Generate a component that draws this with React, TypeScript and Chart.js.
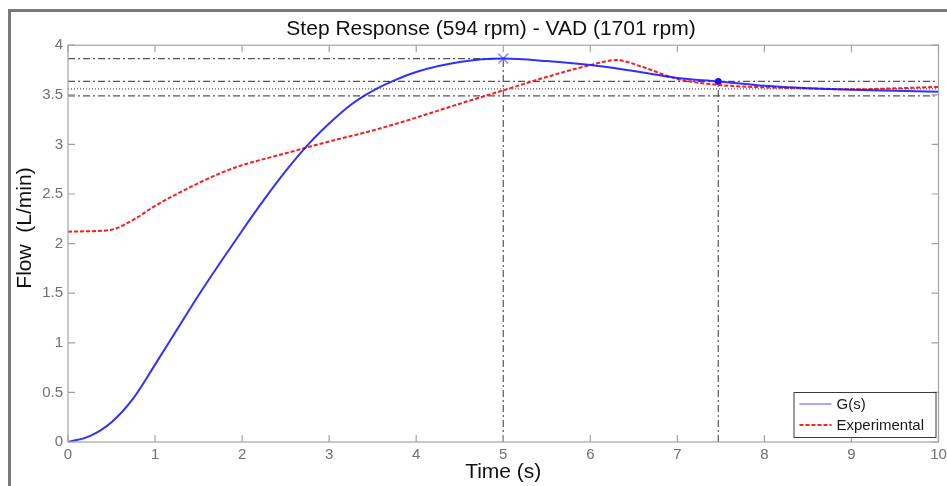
import React, { useEffect, useRef } from "react";
import { Chart, registerables } from "chart.js";

Chart.register(...registerables);

const titleText = "Step Response (594 rpm) - VAD (1701 rpm)";
const xAxisLabel = "Time (s)";
const yAxisLabel = "Flow  (L/min)";

const modelLabel = "G(s)";
const expLabel = "Experimental";

const modelTime = [0, 0.25, 0.5, 0.75, 1.0, 1.25, 1.5, 1.75, 2.0, 2.25, 2.5, 2.75, 3.0, 3.25, 3.5, 3.75, 4.0, 4.5, 5.0, 5.5, 6.0, 6.5, 7.0, 7.47, 8.0, 8.5, 9.0, 9.5, 10];
const modelFlow = [0, 0.06, 0.2, 0.44, 0.78, 1.13, 1.48, 1.81, 2.13, 2.44, 2.73, 2.99, 3.21, 3.4, 3.54, 3.645, 3.73, 3.83, 3.865, 3.84, 3.8, 3.74, 3.67, 3.635, 3.59, 3.565, 3.55, 3.54, 3.53];

const expTime = [0, 0.25, 0.5, 0.75, 1.0, 1.25, 1.5, 1.75, 2.0, 2.5, 3.0, 3.5, 4.0, 4.5, 5.0, 5.5, 6.0, 6.3, 6.6, 7.0, 7.47, 8.0, 8.5, 9.0, 9.5, 10];
const expFlow = [2.12, 2.125, 2.14, 2.24, 2.38, 2.5, 2.61, 2.71, 2.79, 2.91, 3.03, 3.14, 3.27, 3.41, 3.545, 3.68, 3.8, 3.85, 3.78, 3.66, 3.6, 3.575, 3.565, 3.555, 3.565, 3.58];

const xMin = 0;
const xMax = 10;
const xStep = 1;
const yMin = 0;
const yMax = 4;
const yStep = 0.5;

const peakTime = 5.0;
const peakFlow = 3.865;
const settlingTime = 7.47;
const settlingFlow = 3.635;
const finalFlow = 3.56;
const upperBand = 3.635;
const lowerBand = 3.49;

const FONT = "'Liberation Sans', Arial, sans-serif";
const AXIS_COLOR = "#a3a3a3";
const TICK_COLOR = "#707070";
const REF_COLOR = "#555555";
const DASH_DOT = [7, 3, 2, 3];

const pts = (xs: number[], ys: number[]) => xs.map((x, i) => ({ x, y: ys[i] }));

const framePlugin = {
  id: "frame",
  beforeDraw(chart: any) {
    const { ctx, width, height } = chart;
    ctx.save();
    ctx.fillStyle = "#ffffff";
    ctx.fillRect(0, 0, width, height);
    ctx.strokeStyle = "#7a7a7a";
    ctx.lineWidth = 3;
    ctx.beginPath();
    ctx.moveTo(9.5, height);
    ctx.lineTo(9.5, 10.5);
    ctx.lineTo(width, 10.5);
    ctx.stroke();
    ctx.restore();
  },
};

const axesBoxPlugin = {
  id: "axesBox",
  afterDatasetsDraw(chart: any) {
    const { ctx, chartArea } = chart;
    const { left, right, top, bottom } = chartArea;
    const xs = chart.scales.x;
    const ys = chart.scales.y;
    const tl = 7;
    ctx.save();
    ctx.strokeStyle = AXIS_COLOR;
    ctx.lineWidth = 1.2;
    ctx.setLineDash([]);
    ctx.strokeRect(left, top, right - left, bottom - top);
    ctx.beginPath();
    xs.ticks.forEach((t: any) => {
      const px = xs.getPixelForValue(t.value);
      ctx.moveTo(px, bottom);
      ctx.lineTo(px, bottom - tl);
      ctx.moveTo(px, top);
      ctx.lineTo(px, top + tl);
    });
    ys.ticks.forEach((t: any) => {
      const py = ys.getPixelForValue(t.value);
      ctx.moveTo(left, py);
      ctx.lineTo(left + tl, py);
      ctx.moveTo(right, py);
      ctx.lineTo(right - tl, py);
    });
    ctx.stroke();
    ctx.restore();
  },
};

const yLabelPlugin = {
  id: "yLabel",
  afterDraw(chart: any, _args: any, opts: any) {
    const { ctx } = chart;
    ctx.save();
    ctx.translate(opts.x, opts.y);
    ctx.rotate(-Math.PI / 2);
    ctx.fillStyle = "#111";
    ctx.font = `21px ${FONT}`;
    ctx.textAlign = "center";
    ctx.textBaseline = "middle";
    ctx.fillText(opts.text, 0, 0);
    ctx.restore();
  },
};

const legendPlugin = {
  id: "boxLegend",
  afterDraw(chart: any) {
    const { ctx, chartArea } = chart;
    const items = chart.data.datasets.filter((d: any) => d.inLegend);
    const w = 142;
    const rowH = 21;
    const h = items.length * rowH + 3;
    const x0 = chartArea.right - 3 - w;
    const y0 = chartArea.bottom - 5 - h;
    ctx.save();
    ctx.fillStyle = "#fff";
    ctx.fillRect(x0, y0, w, h);
    ctx.strokeStyle = "#3a3a3a";
    ctx.lineWidth = 1;
    ctx.setLineDash([]);
    ctx.strokeRect(x0 + 0.5, y0 + 0.5, w, h);
    items.forEach((d: any, i: number) => {
      const cy = y0 + 12 + i * rowH;
      ctx.beginPath();
      ctx.strokeStyle = d.legendColor;
      ctx.lineWidth = 2;
      ctx.setLineDash(d.borderDash || []);
      ctx.moveTo(x0 + 6, cy);
      ctx.lineTo(x0 + 38, cy);
      ctx.stroke();
      ctx.setLineDash([]);
      ctx.fillStyle = "#1a1a1a";
      ctx.font = `15px ${FONT}`;
      ctx.textAlign = "left";
      ctx.textBaseline = "middle";
      ctx.fillText(d.label, x0 + 43, cy + 1);
    });
    ctx.restore();
  },
};

const refLine = (label: string, data: { x: number; y: number }[], dash: number[]) => ({
  label,
  data,
  borderColor: REF_COLOR,
  borderWidth: 1.2,
  borderDash: dash,
  pointRadius: 0,
  tension: 0,
  fill: false,
});

export default function App() {
  const canvasRef = useRef<HTMLCanvasElement | null>(null);

  useEffect(() => {
    if (!canvasRef.current) return;
    const chart = new Chart(canvasRef.current, {
      type: "line",
      data: {
        datasets: [
          {
            label: modelLabel,
            inLegend: true,
            legendColor: "rgba(130,130,255,0.7)",
            data: pts(modelTime, modelFlow),
            borderColor: "rgba(25,25,255,0.9)",
            borderWidth: 2,
            pointRadius: 0,
            cubicInterpolationMode: "monotone",
            fill: false,
          } as any,
          {
            label: expLabel,
            inLegend: true,
            legendColor: "#ff2020",
            data: pts(expTime, expFlow),
            borderColor: "#ff1a1a",
            borderWidth: 2,
            borderDash: [4, 2],
            pointRadius: 0,
            cubicInterpolationMode: "monotone",
            fill: false,
          } as any,
          {
            label: "Peak",
            data: [{ x: peakTime, y: peakFlow }],
            showLine: false,
            pointStyle: "crossRot",
            pointRadius: 7,
            pointBorderWidth: 1.5,
            pointBorderColor: "#8a8aff",
            pointBackgroundColor: "#8a8aff",
          } as any,
          {
            label: "Settling",
            data: [{ x: settlingTime, y: settlingFlow }],
            showLine: false,
            pointStyle: "circle",
            pointRadius: 3.5,
            pointBorderWidth: 0,
            pointBackgroundColor: "#1010ff",
          } as any,
          refLine("Peak level", [{ x: xMin, y: peakFlow }, { x: peakTime, y: peakFlow }], DASH_DOT),
          refLine("Peak time", [{ x: peakTime, y: yMin }, { x: peakTime, y: peakFlow }], DASH_DOT),
          refLine("Settling time", [{ x: settlingTime, y: yMin }, { x: settlingTime, y: settlingFlow }], DASH_DOT),
          refLine("Upper band", [{ x: xMin, y: upperBand }, { x: xMax, y: upperBand }], DASH_DOT),
          refLine("Final value", [{ x: xMin, y: finalFlow }, { x: xMax, y: finalFlow }], [1, 2]),
          refLine("Lower band", [{ x: xMin, y: lowerBand }, { x: xMax, y: lowerBand }], DASH_DOT),
        ],
      },
      options: {
        responsive: false,
        animation: false,
        events: [],
        layout: { padding: { left: 40, right: 5, top: 0, bottom: 0 } },
        plugins: {
          legend: { display: false },
          tooltip: { enabled: false },
          title: {
            display: true,
            text: titleText,
            color: "#111",
            font: { family: FONT, size: 21, weight: "normal" },
            padding: { top: 17, bottom: 3 },
          },
          yLabel: { text: yAxisLabel, x: 25, y: 228 },
        } as any,
        scales: {
          x: {
            type: "linear",
            min: xMin,
            max: xMax,
            border: { display: false },
            grid: { display: true, drawOnChartArea: false, drawTicks: false },
            ticks: {
              stepSize: xStep,
              color: TICK_COLOR,
              font: { family: FONT, size: 15 },
              padding: 4,
              maxRotation: 0,
              callback: (v: any) => `${+v}`,
            },
            title: {
              display: true,
              text: xAxisLabel,
              color: "#111",
              font: { family: FONT, size: 21 },
              padding: { top: 0, bottom: 1 },
            },
            afterFit: (s: any) => {
              s.height = 44;
              s.paddingLeft = 0;
              s.paddingRight = 0;
            },
          },
          y: {
            type: "linear",
            min: yMin,
            max: yMax,
            border: { display: false },
            grid: { display: true, drawOnChartArea: false, drawTicks: false },
            ticks: {
              stepSize: yStep,
              color: TICK_COLOR,
              font: { family: FONT, size: 15 },
              padding: 5,
              callback: (v: any) => `${+v}`,
            },
            afterFit: (s: any) => {
              s.width = 28;
            },
          },
        },
      } as any,
      plugins: [framePlugin, axesBoxPlugin, yLabelPlugin, legendPlugin],
    });
    return () => chart.destroy();
  }, []);

  return (
    <div style={{ position: "fixed", left: 0, top: 0, width: 947, height: 486, background: "#fff" }}>
      <canvas ref={canvasRef} width={947} height={486} />
    </div>
  );
}
